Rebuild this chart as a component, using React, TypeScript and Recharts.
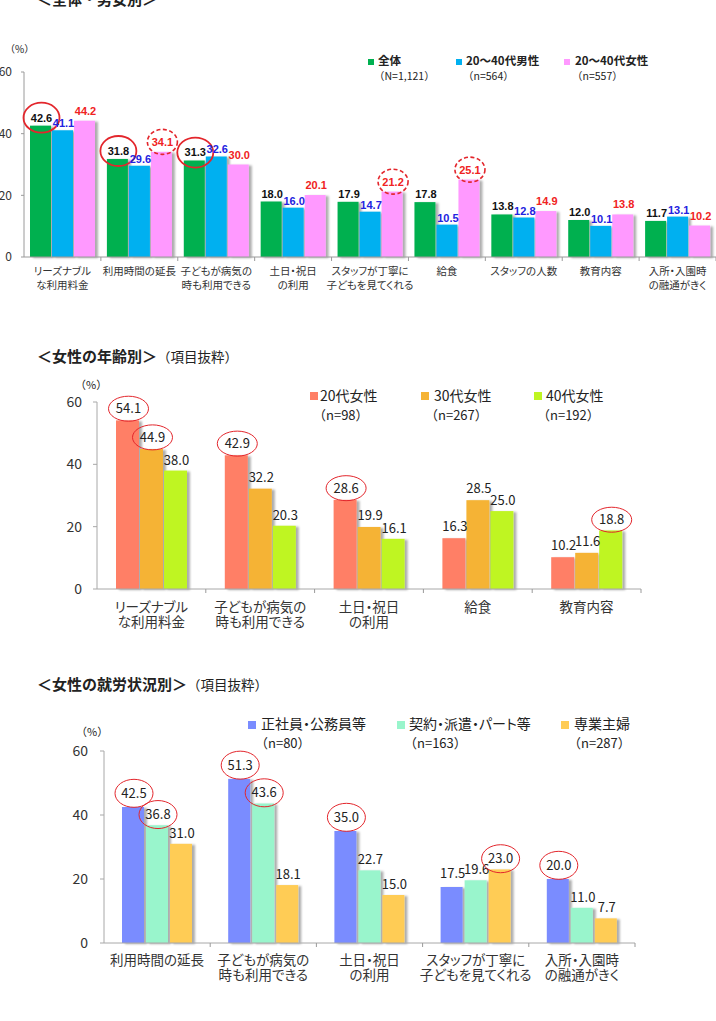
import React from 'react';
import { BarChart, Bar, XAxis, YAxis, LabelList } from 'recharts';

const JP = '"Noto Sans CJK JP", "Noto Sans", sans-serif';
const NUM = '"Liberation Sans", Arial, sans-serif';
const PALT = '"palt"';

// ＜全体・男女別＞
const allItems = [
  'リーズナブル\nな利用料金',
  '利用時間の延長',
  '子どもが病気の\n時も利用できる',
  '土日・祝日\nの利用',
  'スタッフが丁寧に\n子どもを見てくれる',
  '給食',
  'スタッフの人数',
  '教育内容',
  '入所・入園時\nの融通がきく',
];
const allTotal = [42.6, 31.8, 31.3, 18.0, 17.9, 17.8, 13.8, 12.0, 11.7];
const allMale = [41.1, 29.6, 32.6, 16.0, 14.7, 10.5, 12.8, 10.1, 13.1];
const allFemale = [44.2, 34.1, 30.0, 20.1, 21.2, 25.1, 14.9, 13.8, 10.2];
const totalCircled = [0, 1, 2];
const femaleDashed = [1, 4, 5];

// ＜女性の年齢別＞
const ageItems = ['リーズナブル\nな利用料金', '子どもが病気の\n時も利用できる', '土日・祝日\nの利用', '給食', '教育内容'];
const age20 = [54.1, 42.9, 28.6, 16.3, 10.2];
const age30 = [44.9, 32.2, 19.9, 28.5, 11.6];
const age40 = [38.0, 20.3, 16.1, 25.0, 18.8];
const age20Circled = [0, 1, 2];
const age30Circled = [0];
const age40Circled = [4];

// ＜女性の就労状況別＞
const workItems = [
  '利用時間の延長',
  '子どもが病気の\n時も利用できる',
  '土日・祝日\nの利用',
  'スタッフが丁寧に\n子どもを見てくれる',
  '入所・入園時\nの融通がきく',
];
const fullTime = [42.5, 51.3, 35.0, 17.5, 20.0];
const partTime = [36.8, 43.6, 22.7, 19.6, 11.0];
const housewife = [31.0, 18.1, 15.0, 23.0, 7.7];
const fullTimeCircled = [0, 1, 2, 4];
const partTimeCircled = [0, 1];
const housewifeCircled = [3];

const yTicks = [0, 20, 40, 60];

const zip = (cats: string[], a: number[], b: number[], c: number[]) =>
  cats.map((name, i) => ({ name, a: a[i], b: b[i], c: c[i] }));

const shadowBar = (p: any) => (
  <rect x={p.x} y={p.y} width={p.width} height={p.height} fill={p.fill} filter="url(#barShadow)" />
);

type LabelOpts = {
  values: number[];
  color: string;
  size: number;
  bold?: boolean;
  font: string;
  lift: number;
  circled?: number[];
  dashed?: number[];
  rx: number;
  ry: number;
  sw: number;
};

const valueLabel = (o: LabelOpts) => (p: any) => {
  const idx = typeof p.index === 'number' ? p.index : o.values.indexOf(Number(p.value));
  const cx = Number(p.x) + Number(p.width) / 2 + 1;
  const base = Number(p.y) - o.lift;
  const cy = base - o.size * 0.36;
  const ring = o.circled?.includes(idx) ? 'solid' : o.dashed?.includes(idx) ? 'dashed' : null;
  return (
    <g>
      {ring && (
        <ellipse
          cx={cx}
          cy={cy}
          rx={o.rx}
          ry={o.ry}
          fill="none"
          stroke="#e3262c"
          strokeWidth={o.sw}
          strokeDasharray={ring === 'dashed' ? '4 2.5' : undefined}
        />
      )}
      <text
        x={cx}
        y={base}
        textAnchor="middle"
        fill={o.color}
        fontSize={o.size}
        fontWeight={o.bold ? 700 : 400}
        fontFamily={o.font}
      >
        {Number(p.value).toFixed(1)}
      </text>
    </g>
  );
};

const categoryTick = (band: number, size: number, first: number, gap: number) => (p: any) => {
  const lines = String(p.payload.value).split('\n');
  return (
    <g>
      <line x1={p.x + band / 2} x2={p.x + band / 2} y1={p.y} y2={p.y + 4} stroke="#9a9a9a" />
      {lines.map((l, i) => (
        <text
          key={i}
          x={p.x}
          y={p.y + first + i * gap}
          textAnchor="middle"
          fontSize={size}
          fill="#333"
          fontFamily={JP}
          style={{ fontFeatureSettings: PALT }}
        >
          {l}
        </text>
      ))}
    </g>
  );
};

const abs = (left: number, top: number, extra: React.CSSProperties = {}): React.CSSProperties => ({
  position: 'absolute',
  left,
  top,
  whiteSpace: 'nowrap',
  fontFamily: JP,
  lineHeight: 1,
  color: '#222',
  ...extra,
});

const Swatch = ({ left, top, color, size }: { left: number; top: number; color: string; size: number }) => (
  <div style={{ position: 'absolute', left, top, width: size, height: size, background: color }} />
);

export default function App() {
  const data1 = zip(allItems, allTotal, allMale, allFemale);
  const data2 = zip(ageItems, age20, age30, age40);
  const data3 = zip(workItems, fullTime, partTime, housewife);

  const band1 = (716 - 24) / allItems.length;
  const band2 = (641 - 97) / ageItems.length;
  const band3 = (635 - 104) / workItems.length;

  const legend2: React.CSSProperties = { fontSize: 14, fontFeatureSettings: PALT };

  return (
    <div style={{ position: 'absolute', left: 0, top: 0, width: 716, height: 1021, overflow: 'hidden', background: '#fff' }}>
      <svg width={0} height={0} style={{ position: 'absolute' }}>
        <defs>
          <filter id="barShadow" x="-20%" y="-10%" width="170%" height="125%">
            <feDropShadow dx="3" dy="1" stdDeviation="1.3" floodColor="#000" floodOpacity="0.32" />
          </filter>
        </defs>
      </svg>

      {/* chart 1 */}
      <div style={abs(37, -9, { fontSize: 15, fontWeight: 700 })}>＜全体・男女別＞</div>
      <div style={abs(5, 44, { fontSize: 10 })}>（%）</div>
      <Swatch left={368} top={59} color="#00b050" size={6} />
      <div style={abs(378, 55, { fontSize: 11.5, fontWeight: 700 })}>全体</div>
      <div style={abs(374, 71, { fontSize: 10.5 })}>（N=1,121）</div>
      <Swatch left={456} top={59} color="#00b0f0" size={6} />
      <div style={abs(466, 55, { fontSize: 11.5, fontWeight: 700 })}>20～40代男性</div>
      <div style={abs(463, 71, { fontSize: 10.5 })}>（n=564）</div>
      <Swatch left={564} top={59} color="#ff99ff" size={6} />
      <div style={abs(575, 55, { fontSize: 11.5, fontWeight: 700 })}>20～40代女性</div>
      <div style={abs(572, 71, { fontSize: 10.5 })}>（n=557）</div>
      <div style={{ position: 'absolute', left: 0, top: 0 }}>
        <BarChart width={716} height={300} data={data1} margin={{ top: 72, right: 0, left: 0, bottom: 3 }} barCategoryGap={6} barGap={1}>
          <XAxis
            dataKey="name"
            height={40}
            interval={0}
            tickSize={0}
            tickMargin={0}
            tickLine={false}
            axisLine={{ stroke: '#9a9a9a' }}
            tick={categoryTick(band1, 10.5, 18, 13.5)}
          />
          <YAxis
            width={24}
            domain={[0, 60]}
            ticks={yTicks}
            tickSize={3}
            tickMargin={9}
            axisLine={{ stroke: '#9a9a9a' }}
            tickLine={{ stroke: '#9a9a9a' }}
            tick={{ fontSize: 12, fill: '#333', fontFamily: JP }}
          />
          <Bar dataKey="a" fill="#00b050" shape={shadowBar} isAnimationActive={false}>
            <LabelList
              dataKey="a"
              content={valueLabel({ values: allTotal, color: '#111', size: 11, bold: true, font: NUM, lift: 4, circled: totalCircled, rx: 18, ry: 15, sw: 1.8 })}
            />
          </Bar>
          <Bar dataKey="b" fill="#00b0f0" shape={shadowBar} isAnimationActive={false}>
            <LabelList dataKey="b" content={valueLabel({ values: allMale, color: '#2222e0', size: 11, bold: true, font: NUM, lift: 3, rx: 18, ry: 15, sw: 1.8 })} />
          </Bar>
          <Bar dataKey="c" fill="#ff99ff" shape={shadowBar} isAnimationActive={false}>
            <LabelList
              dataKey="c"
              content={valueLabel({ values: allFemale, color: '#f02222', size: 11, bold: true, font: NUM, lift: 6, dashed: femaleDashed, rx: 15, ry: 12.5, sw: 1.6 })}
            />
          </Bar>
        </BarChart>
      </div>

      {/* chart 2 */}
      <div style={abs(37, 347)}>
        <span style={{ fontSize: 15, fontWeight: 700 }}>＜女性の年齢別＞</span>
        <span style={{ fontSize: 13.5 }}>（項目抜粋）</span>
      </div>
      <div style={abs(75, 379, { fontSize: 11 })}>（%）</div>
      <Swatch left={310} top={392} color="#ff7f66" size={8} />
      <div style={abs(320, 388, legend2)}>20代女性</div>
      <div style={abs(313, 408, { fontSize: 13 })}>（n=98）</div>
      <Swatch left={421} top={392} color="#f5b335" size={8} />
      <div style={abs(434, 388, legend2)}>30代女性</div>
      <div style={abs(425, 408, { fontSize: 13 })}>（n=267）</div>
      <Swatch left={534} top={392} color="#bff522" size={8} />
      <div style={abs(546, 388, legend2)}>40代女性</div>
      <div style={abs(537, 408, { fontSize: 13 })}>（n=192）</div>
      <div style={{ position: 'absolute', left: 0, top: 340 }}>
        <BarChart width={660} height={300} data={data2} margin={{ top: 62, right: 19, left: 0, bottom: 6 }} barCategoryGap={19} barGap={1}>
          <XAxis
            dataKey="name"
            height={45}
            interval={0}
            tickSize={0}
            tickMargin={0}
            tickLine={false}
            axisLine={{ stroke: '#a8a8a8' }}
            tick={categoryTick(band2, 13.5, 23, 15)}
          />
          <YAxis
            width={97}
            domain={[0, 60]}
            ticks={yTicks}
            tickSize={4}
            tickMargin={11}
            axisLine={{ stroke: '#a8a8a8' }}
            tickLine={{ stroke: '#a8a8a8' }}
            tick={{ fontSize: 14, fill: '#333', fontFamily: JP }}
          />
          <Bar dataKey="a" fill="#ff7f66" shape={shadowBar} isAnimationActive={false}>
            <LabelList dataKey="a" content={valueLabel({ values: age20, color: '#222', size: 13, font: JP, lift: 7, circled: age20Circled, rx: 20, ry: 12.5, sw: 1 })} />
          </Bar>
          <Bar dataKey="b" fill="#f5b335" shape={shadowBar} isAnimationActive={false}>
            <LabelList dataKey="b" content={valueLabel({ values: age30, color: '#222', size: 13, font: JP, lift: 7, circled: age30Circled, rx: 20, ry: 12.5, sw: 1 })} />
          </Bar>
          <Bar dataKey="c" fill="#bff522" shape={shadowBar} isAnimationActive={false}>
            <LabelList dataKey="c" content={valueLabel({ values: age40, color: '#222', size: 13, font: JP, lift: 6, circled: age40Circled, rx: 20, ry: 12.5, sw: 1 })} />
          </Bar>
        </BarChart>
      </div>

      {/* chart 3 */}
      <div style={abs(37, 675)}>
        <span style={{ fontSize: 15, fontWeight: 700 }}>＜女性の就労状況別＞</span>
        <span style={{ fontSize: 13.5 }}>（項目抜粋）</span>
      </div>
      <div style={abs(76, 726, { fontSize: 11 })}>（%）</div>
      <Swatch left={248} top={721} color="#7a8cff" size={8} />
      <div style={abs(261, 716, legend2)}>正社員・公務員等</div>
      <div style={abs(255, 736, { fontSize: 13 })}>（n=80）</div>
      <Swatch left={397} top={721} color="#99f5cc" size={8} />
      <div style={abs(409, 716, legend2)}>契約・派遣・パート等</div>
      <div style={abs(404, 736, { fontSize: 13 })}>（n=163）</div>
      <Swatch left={561} top={721} color="#ffcc55" size={8} />
      <div style={abs(574, 716, legend2)}>専業主婦</div>
      <div style={abs(568, 736, { fontSize: 13 })}>（n=287）</div>
      <div style={{ position: 'absolute', left: 0, top: 670 }}>
        <BarChart width={655} height={330} data={data3} margin={{ top: 81, right: 20, left: 0, bottom: 12 }} barCategoryGap={18} barGap={2}>
          <XAxis
            dataKey="name"
            height={45}
            interval={0}
            tickSize={0}
            tickMargin={0}
            tickLine={false}
            axisLine={{ stroke: '#a8a8a8' }}
            tick={categoryTick(band3, 13.5, 22, 15)}
          />
          <YAxis
            width={104}
            domain={[0, 60]}
            ticks={yTicks}
            tickSize={4}
            tickMargin={12}
            axisLine={{ stroke: '#a8a8a8' }}
            tickLine={{ stroke: '#a8a8a8' }}
            tick={{ fontSize: 14, fill: '#333', fontFamily: JP }}
          />
          <Bar dataKey="a" fill="#7a8cff" shape={shadowBar} isAnimationActive={false}>
            <LabelList dataKey="a" content={valueLabel({ values: fullTime, color: '#222', size: 13, font: JP, lift: 9, circled: fullTimeCircled, rx: 19, ry: 14, sw: 1 })} />
          </Bar>
          <Bar dataKey="b" fill="#99f5cc" shape={shadowBar} isAnimationActive={false}>
            <LabelList dataKey="b" content={valueLabel({ values: partTime, color: '#222', size: 13, font: JP, lift: 6, circled: partTimeCircled, rx: 19, ry: 14, sw: 1 })} />
          </Bar>
          <Bar dataKey="c" fill="#ffcc55" shape={shadowBar} isAnimationActive={false}>
            <LabelList dataKey="c" content={valueLabel({ values: housewife, color: '#222', size: 13, font: JP, lift: 6, circled: housewifeCircled, rx: 19, ry: 14, sw: 1 })} />
          </Bar>
        </BarChart>
      </div>
    </div>
  );
}
